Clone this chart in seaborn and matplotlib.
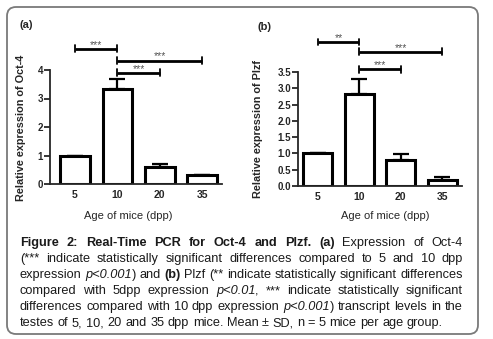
import matplotlib
matplotlib.use("Agg")
import matplotlib.pyplot as plt
import seaborn as sns
from matplotlib.patches import FancyBboxPatch

# Dados
idades = ["5", "10", "20", "35"]
oct4_media = [1.0, 3.35, 0.58, 0.31]
oct4_dp = [0.0, 0.33, 0.13, 0.0]
plzf_media = [1.0, 2.83, 0.79, 0.19]
plzf_dp = [0.0, 0.45, 0.18, 0.08]

# comparações: (grupo 1, grupo 2, marca)
oct4_comp = [(0, 1, "***"), (1, 3, "***"), (1, 2, "***")]
plzf_comp = [(0, 1, "**"), (1, 3, "***"), (1, 2, "***")]

sns.set_style("ticks")
plt.rcParams["font.family"] = ["Liberation Sans", "DejaVu Sans"]

W, H = 493, 339
fig = plt.figure(figsize=(W / 100, H / 100), dpi=100)

# eixo de fundo em pixels para moldura e legenda
bg = fig.add_axes([0, 0, 1, 1], zorder=-1)
bg.set_xlim(0, W)
bg.set_ylim(H, 0)
bg.axis("off")
bg.add_patch(FancyBboxPatch((7, 7), 471, 327, boxstyle="round,pad=0,rounding_size=9",
                            facecolor="white", edgecolor="#7a7a7a", linewidth=1.3))


def painel(rect, media, dp, comp, ymax, yticks, ticklabels, alturas, xlim):
    ax = fig.add_axes([rect[0] / W, (H - rect[1] - rect[3]) / H, rect[2] / W, rect[3] / H])
    sns.barplot(x=idades, y=media, color="white", edgecolor="black", linewidth=2.2,
                width=0.7, errorbar=None, saturation=1, ax=ax)
    ax.errorbar(range(len(idades)), media, yerr=[[0] * len(dp), dp], fmt="none",
                ecolor="black", elinewidth=1.6, capsize=5.5, capthick=1.6, zorder=0)
    ax.set_ylim(0, ymax)
    ax.set_xlim(*xlim)
    ax.set_yticks(yticks)
    ax.set_yticklabels(ticklabels)
    sns.despine(ax=ax)
    for s in ["left", "bottom"]:
        ax.spines[s].set_linewidth(1.3)
    ax.tick_params(axis="y", length=4, width=1.3, pad=1, labelsize=7)
    ax.tick_params(axis="x", length=0, pad=4, labelsize=7.5)
    for lbl in ax.get_xticklabels() + ax.get_yticklabels():
        lbl.set_fontweight("bold")
    ax.set_xlabel("")
    ax.set_ylabel("")
    d = ymax * 0.03
    for (a, b, marca), y in zip(comp, alturas):
        ax.plot([a, b], [y, y], color="black", lw=2.0, clip_on=False, solid_capstyle="butt")
        for xx in (a, b):
            ax.plot([xx, xx], [y - d, y + d], color="black", lw=1.3, clip_on=False)
        ax.annotate(marca, xy=((a + b) / 2, y), xytext=(0, 3), textcoords="offset points",
                    ha="center", va="center", fontsize=7.5, color="#555555", annotation_clip=False)
    return ax


painel((50, 70, 172, 114), oct4_media, oct4_dp, oct4_comp, 4, [0, 1, 2, 3, 4],
       ["0", "1", "2", "3", "4"], [4.74, 4.33, 3.9], (-0.59, 3.47))
painel((298, 72, 164, 114), plzf_media, plzf_dp, plzf_comp, 3.5,
       [0, 0.5, 1, 1.5, 2, 2.5, 3, 3.5],
       ["0.0", "0.5", "1.0", "1.5", "2.0", "2.5", "3.0", "3.5"], [4.42, 4.12, 3.58], (-0.48, 3.48))

bg.text(19, 25, "(a)", fontsize=8, fontweight="bold", va="center", ha="left")
bg.text(258, 27, "(b)", fontsize=8, fontweight="bold", va="center", ha="left")
bg.text(21, 128, "Relative expression of Oct-4", rotation=90, fontsize=7.8, fontweight="bold",
        ha="center", va="center")
bg.text(258, 129, "Relative expression of Plzf", rotation=90, fontsize=7.8, fontweight="bold",
        ha="center", va="center")
bg.text(128, 216, "Age of mice (dpp)", fontsize=8, ha="center", va="center")
bg.text(385, 216, "Age of mice (dpp)", fontsize=8, ha="center", va="center")

# legenda justificada
B, I, N = ("bold", "normal"), ("normal", "italic"), ("normal", "normal")
linhas = [
    [[("Figure", B)], [("2:", B)], [("Real-Time", B)], [("PCR", B)], [("for", B)], [("Oct-4", B)],
     [("and", B)], [("Plzf.", B)], [("(a)", B)], [("Expression", N)], [("of", N)], [("Oct-4", N)]],
    [[(w, N)] for w in "(*** indicate statistically significant differences compared to 5 and 10 dpp".split()],
    [[("expression", N)], [("p<0.001", I), (")", N)], [("and", N)], [("(b)", B)], [("Plzf", N)]]
    + [[(w, N)] for w in "(** indicate statistically significant differences".split()],
    [[(w, N)] for w in "compared with 5dpp expression".split()] + [[("p<0.01", I), (",", N)]]
    + [[(w, N)] for w in "*** indicate statistically significant".split()],
    [[(w, N)] for w in "differences compared with 10 dpp expression".split()] + [[("p<0.001", I), (")", N)]]
    + [[(w, N)] for w in "transcript levels in the".split()],
    [[(w, N)] for w in "testes of 5, 10, 20 and 35 dpp mice. Mean ± SD, n = 5 mice per age group.".split()],
]

renderer = fig.canvas.get_renderer()
fam = ["Liberation Sans", "DejaVu Sans"]


def largura(texto, estilo, tam):
    t = bg.text(0, 0, texto, fontsize=tam, fontweight=estilo[0], fontstyle=estilo[1], family=fam)
    w = t.get_window_extent(renderer).width
    t.remove()
    return w


tam = 9.2
esp = tam * 100 / 72 * 0.278
x0, x1 = 20, 463
base = [246, 262, 278, 294, 310, 326]
for i, linha in enumerate(linhas):
    larg = [[largura(s, e, tam) for s, e in pal] for pal in linha]
    total = sum(sum(l) for l in larg)
    if i < len(linhas) - 1:
        gap = (x1 - x0 - total) / (len(linha) - 1)
    else:
        gap = esp
    x = x0
    for pal, ls in zip(linha, larg):
        for (s, e), w in zip(pal, ls):
            bg.text(x, base[i], s, fontsize=tam, fontweight=e[0], fontstyle=e[1], family=fam,
                    va="baseline", ha="left", color="#1a1a1a")
            x += w
        x += gap

fig.savefig("out.png", dpi=100)
